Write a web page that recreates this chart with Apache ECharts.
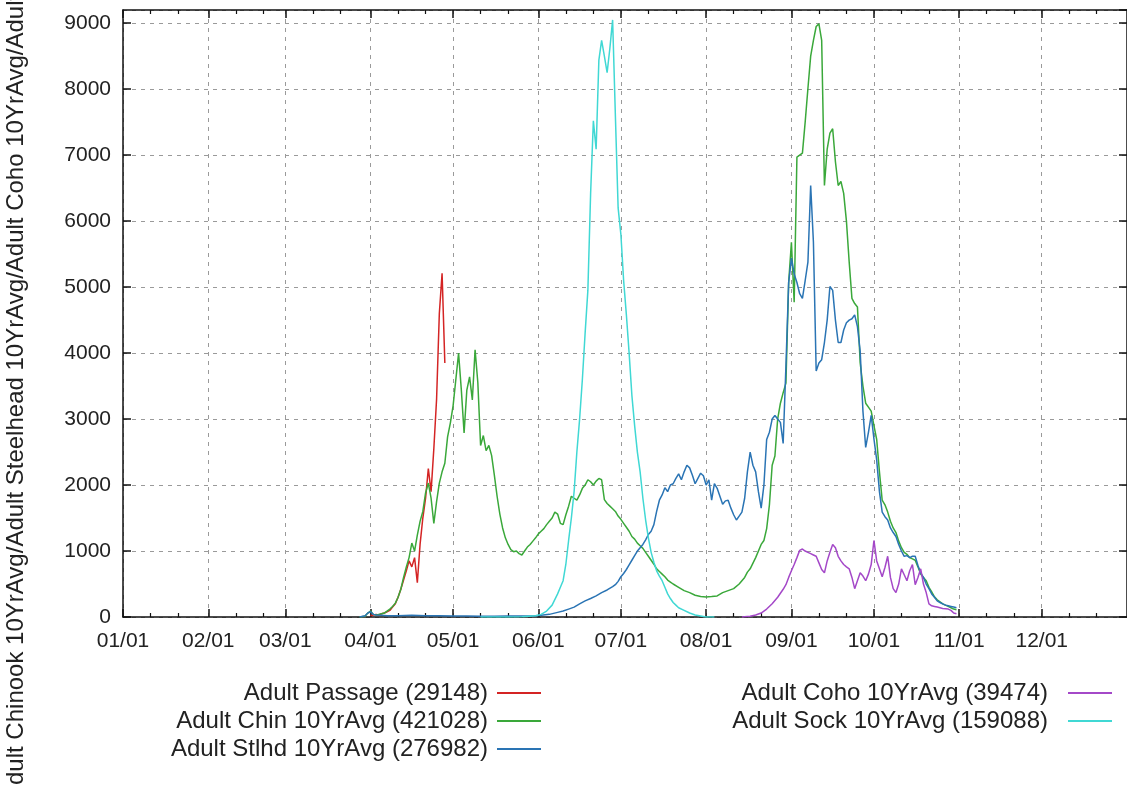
<!DOCTYPE html>
<html>
<head>
<meta charset="utf-8">
<script src="https://cdn.jsdelivr.net/npm/echarts@6/dist/echarts.min.js"></script>
<style>
html,body{margin:0;padding:0;background:#fff;}
#chart{width:1127px;height:785px;}
</style>
</head>
<body>
<div id="chart"></div>
<script>
// ---- tick labels / calendar ----
const monthLabels = ['01/01','02/01','03/01','04/01','05/01','06/01','07/01','08/01','09/01','10/01','11/01','12/01'];
const monthDays = [31,28,31,30,31,30,31,31,30,31,30,31];
const yTicks = [0,1000,2000,3000,4000,5000,6000,7000,8000,9000];

// ---- series values: [day of year (0 = 01/01), fish count] ----
const passage = [[90,20],[91,30],[92,40],[93,30],[94,50],[95,60],[96,80],[97,100],[98,150],[99,200],[100,300],[101,420],[102,560],[103,700],[104,850],[105,760],[106,900],[107,520],[108,1100],[109,1500],[110,1800],[111,2250],[112,1900],[113,2550],[114,3300],[115,4600],[116,5210],[117,3850]];

const chinook = [[86,0],[88,10],[89,60],[90,90],[91,40],[92,30],[93,40],[94,50],[95,60],[96,90],[97,120],[98,160],[99,210],[100,300],[101,420],[102,600],[103,760],[104,900],[105,1120],[106,1000],[107,1240],[108,1450],[109,1600],[110,1880],[111,2030],[112,1800],[113,1420],[114,1750],[115,2030],[116,2200],[117,2330],[118,2730],[119,2940],[120,3200],[121,3600],[122,4000],[123,3440],[124,2790],[125,3440],[126,3640],[127,3290],[128,4050],[129,3550],[130,2600],[131,2750],[132,2520],[133,2600],[134,2450],[135,2150],[136,1830],[137,1560],[138,1350],[139,1200],[140,1100],[141,1020],[142,990],[143,1000],[144,960],[145,940],[146,1000],[147,1060],[148,1100],[149,1150],[150,1200],[151,1260],[152,1300],[153,1340],[154,1400],[155,1450],[156,1500],[157,1590],[158,1560],[159,1420],[160,1400],[161,1550],[162,1680],[163,1830],[164,1800],[165,1770],[166,1850],[167,1950],[168,2000],[169,2080],[170,2050],[171,2000],[172,2060],[173,2100],[174,2080],[175,1780],[176,1720],[177,1680],[178,1640],[179,1600],[180,1530],[181,1480],[182,1420],[183,1360],[184,1300],[185,1220],[186,1180],[187,1120],[188,1080],[189,1040],[190,980],[191,920],[192,860],[193,800],[194,730],[195,690],[196,650],[197,610],[198,560],[199,530],[200,500],[202,450],[204,400],[206,370],[208,330],[210,310],[212,305],[214,310],[216,320],[218,370],[220,400],[222,430],[224,500],[226,600],[227,680],[228,730],[230,900],[232,1100],[233,1160],[234,1340],[235,1700],[236,2300],[237,2440],[238,3000],[239,3240],[240,3400],[241,3545],[242,5070],[243,5680],[244,4770],[245,6970],[246,7000],[247,7030],[248,7500],[249,8010],[250,8500],[251,8740],[252,8950],[253,8990],[254,8740],[255,6540],[256,7090],[257,7335],[258,7400],[259,6900],[260,6540],[261,6600],[262,6420],[263,6000],[264,5380],[265,4830],[266,4750],[267,4700],[268,3850],[269,3500],[270,3240],[271,3180],[272,3120],[273,2900],[274,2690],[275,2200],[276,1770],[277,1700],[278,1590],[279,1450],[280,1350],[281,1280],[282,1150],[283,1050],[284,980],[285,950],[286,900],[287,880],[288,860],[289,760],[290,650],[291,600],[292,550],[293,450],[294,380],[295,305],[296,260],[297,230],[298,200],[299,180],[300,160],[301,140],[302,120],[303,110]];

const steelhead = [[86,0],[88,20],[89,60],[90,80],[91,40],[92,30],[94,25],[96,20],[100,20],[105,25],[110,20],[115,20],[120,15],[125,15],[130,10],[135,10],[140,15],[145,15],[150,20],[152,25],[155,40],[158,70],[160,90],[162,120],[164,150],[166,200],[168,245],[170,280],[172,320],[174,370],[176,410],[178,460],[179,490],[180,540],[181,610],[182,660],[183,720],[184,790],[185,860],[186,930],[187,1000],[188,1050],[189,1100],[190,1170],[191,1250],[192,1300],[193,1400],[194,1600],[195,1770],[196,1850],[197,1960],[198,1900],[199,2000],[200,2020],[201,2100],[202,2170],[203,2080],[204,2200],[205,2300],[206,2260],[207,2150],[208,2020],[209,2100],[210,2180],[211,2140],[212,2000],[213,2080],[214,1770],[215,2020],[216,1950],[217,1830],[218,1710],[219,1760],[220,1770],[221,1650],[222,1550],[223,1470],[224,1530],[225,1590],[226,1800],[227,2200],[228,2500],[229,2300],[230,2200],[231,1900],[232,1650],[233,2000],[234,2690],[235,2800],[236,3000],[237,3055],[238,3000],[239,2950],[240,2630],[241,3800],[242,5070],[243,5440],[244,5200],[245,5070],[246,4900],[247,4830],[248,5100],[249,5380],[250,6540],[251,5680],[252,3730],[253,3850],[254,3900],[255,4160],[256,4500],[257,5010],[258,4950],[259,4500],[260,4160],[261,4160],[262,4350],[263,4460],[264,4500],[265,4520],[266,4580],[267,4400],[268,4030],[269,3120],[270,2570],[271,2800],[272,3055],[273,2700],[274,2380],[275,1900],[276,1590],[277,1520],[278,1470],[279,1350],[280,1280],[281,1220],[282,1100],[283,1000],[284,920],[285,930],[286,900],[287,920],[288,920],[289,780],[290,670],[291,600],[292,500],[293,430],[294,350],[295,300],[296,245],[297,220],[298,200],[299,180],[300,170],[301,160],[302,150],[303,140]];

const coho = [[225,0],[228,10],[230,30],[232,60],[234,120],[236,200],[238,300],[240,420],[241,490],[242,600],[243,700],[244,795],[245,900],[246,1010],[247,1030],[248,1000],[249,980],[250,960],[251,940],[252,920],[253,820],[254,720],[255,670],[256,850],[257,980],[258,1100],[259,1050],[260,920],[261,850],[262,795],[263,760],[264,730],[265,600],[266,430],[267,550],[268,670],[269,620],[270,550],[271,650],[272,795],[273,1160],[274,850],[275,730],[276,610],[277,750],[278,920],[279,600],[280,430],[281,370],[282,500],[283,730],[284,640],[285,550],[286,700],[287,795],[288,490],[289,600],[290,730],[291,500],[292,370],[293,200],[294,170],[295,160],[296,150],[297,140],[298,130],[299,125],[300,120],[301,100],[302,60],[303,50]];

const sockeye = [[130,0],[140,0],[145,5],[150,20],[152,40],[154,90],[156,180],[158,350],[159,450],[160,550],[161,800],[162,1160],[163,1500],[164,1900],[165,2500],[166,3000],[167,3600],[168,4300],[169,4950],[170,6420],[171,7520],[172,7090],[173,8440],[174,8740],[175,8500],[176,8250],[177,8620],[178,9050],[179,7600],[180,6200],[181,5800],[182,5100],[183,4580],[184,4000],[185,3360],[186,2900],[187,2500],[188,2200],[189,1800],[190,1470],[191,1200],[192,980],[193,830],[194,700],[195,620],[196,550],[197,450],[198,350],[199,280],[200,220],[201,180],[202,140],[204,100],[206,60],[208,30],[210,15],[212,0],[215,0]];

const seriesNames = ['Adult Passage (29148)','Adult Chin 10YrAvg (421028)','Adult Stlhd 10YrAvg (276982)','Adult Coho 10YrAvg (39474)','Adult Sock 10YrAvg (159088)'];
const seriesColors = ['#d42424','#3aa83a','#2a74b4','#a448c8','#40d8d4'];
const yTitle = 'Adult Chinook 10YrAvg/Adult Steelhead 10YrAvg/Adult Coho 10YrAvg/Adult Sockeye 10YrAvg';

// ---- build day categories ----
const days = [];
const monthStart = new Set();
const minorTickIdx = new Set();
let idx = 0;
monthDays.forEach((n, m) => {
  monthStart.add(idx);
  minorTickIdx.add(idx + 10);
  minorTickIdx.add(idx + 20);
  for (let d = 1; d <= n; d++) {
    days.push(String(m + 1).padStart(2, '0') + '/' + String(d).padStart(2, '0'));
    idx++;
  }
});
days.push('12/31+');

const FONT = 'Liberation Sans';
const chart = echarts.init(document.getElementById('chart'));

function catAxis(pos, opts) {
  return Object.assign({
    type: 'category', data: days, boundaryGap: false, position: pos,
    axisLine: {show: false}, axisLabel: {show: false}, axisTick: {show: false}, splitLine: {show: false}
  }, opts);
}

const axisLineStyle = {color: '#111', width: 1.5};

const legendCommon = {
  orient: 'vertical', align: 'right', top: 675, itemGap: 2, itemWidth: 44, itemHeight: 2,
  icon: 'rect', selectedMode: false
};

const option = {
  backgroundColor: '#fff',
  animation: false,
  grid: {left: 123, right: -4, top: 10, bottom: 168, containLabel: false},
  xAxis: [
    catAxis('bottom', {
      axisLine: {show: true, lineStyle: axisLineStyle},
      axisTick: {show: true, inside: true, length: 8, lineStyle: {color: '#111', width: 1.5},
        interval: (i) => monthStart.has(i)},
      axisLabel: {show: true, interval: (i) => monthStart.has(i), margin: 14,
        fontFamily: FONT, fontSize: 21, color: '#222',
        formatter: (v) => monthLabels.includes(v) ? v : ''},
      splitLine: {show: true, interval: (i) => monthStart.has(i),
        lineStyle: {color: '#9a9a9a', type: [4, 5], width: 1}}
    }),
    catAxis('bottom', {
      axisTick: {show: true, inside: true, length: 4, lineStyle: {color: '#111', width: 1.2},
        interval: (i) => minorTickIdx.has(i)}
    }),
    catAxis('top', {
      axisLine: {show: true, lineStyle: axisLineStyle},
      axisTick: {show: true, inside: true, length: 8, lineStyle: {color: '#111', width: 1.5},
        interval: (i) => monthStart.has(i)}
    }),
    catAxis('top', {
      axisTick: {show: true, inside: true, length: 4, lineStyle: {color: '#111', width: 1.2},
        interval: (i) => minorTickIdx.has(i)}
    })
  ],
  yAxis: [
    {
      type: 'value', min: 0, max: 9200, interval: 1000, position: 'left',
      axisLine: {show: true, lineStyle: axisLineStyle},
      axisTick: {show: true, inside: true, length: 8, lineStyle: {color: '#111', width: 1.5}},
      axisLabel: {show: true, margin: 12, fontFamily: FONT, fontSize: 21, color: '#222',
        showMaxLabel: false,
        formatter: (v) => yTicks.includes(v) ? String(v) : ''},
      splitLine: {show: true, lineStyle: {color: '#9a9a9a', type: [4, 5], width: 1}}
    },
    {
      type: 'value', min: 0, max: 9200, interval: 1000, position: 'right',
      axisLine: {show: true, lineStyle: axisLineStyle},
      axisTick: {show: true, inside: true, length: 8, lineStyle: {color: '#111', width: 1.5}},
      axisLabel: {show: false}, splitLine: {show: false}
    }
  ],
  legend: [
    Object.assign({}, legendCommon, {
      data: seriesNames.slice(0, 3), right: 581,
      textStyle: {fontFamily: FONT, fontSize: 24, color: '#222', width: 340, align: 'right',
        lineHeight: 26, padding: [0, 4, 0, 0]}
    }),
    Object.assign({}, legendCommon, {
      data: seriesNames.slice(3), right: 10,
      textStyle: {fontFamily: FONT, fontSize: 24, color: '#222', width: 340, align: 'right',
        lineHeight: 26, padding: [0, 15, 0, 0]}
    })
  ],
  graphic: [
    {
      type: 'text', x: 16, y: 801, rotation: Math.PI / 2,
      style: {text: yTitle, fontFamily: FONT, fontSize: 24, fill: '#222',
        textAlign: 'left', textVerticalAlign: 'middle'}
    }
  ],
  series: [passage, chinook, steelhead, coho, sockeye].map((data, i) => ({
    name: seriesNames[i], type: 'line', data: data, xAxisIndex: 0, yAxisIndex: 0,
    symbol: 'none', showSymbol: false, smooth: false,
    lineStyle: {color: seriesColors[i], width: 1.5},
    itemStyle: {color: seriesColors[i]},
    emphasis: {disabled: true}
  }))
};
chart.setOption(option);
</script>
</body>
</html>
